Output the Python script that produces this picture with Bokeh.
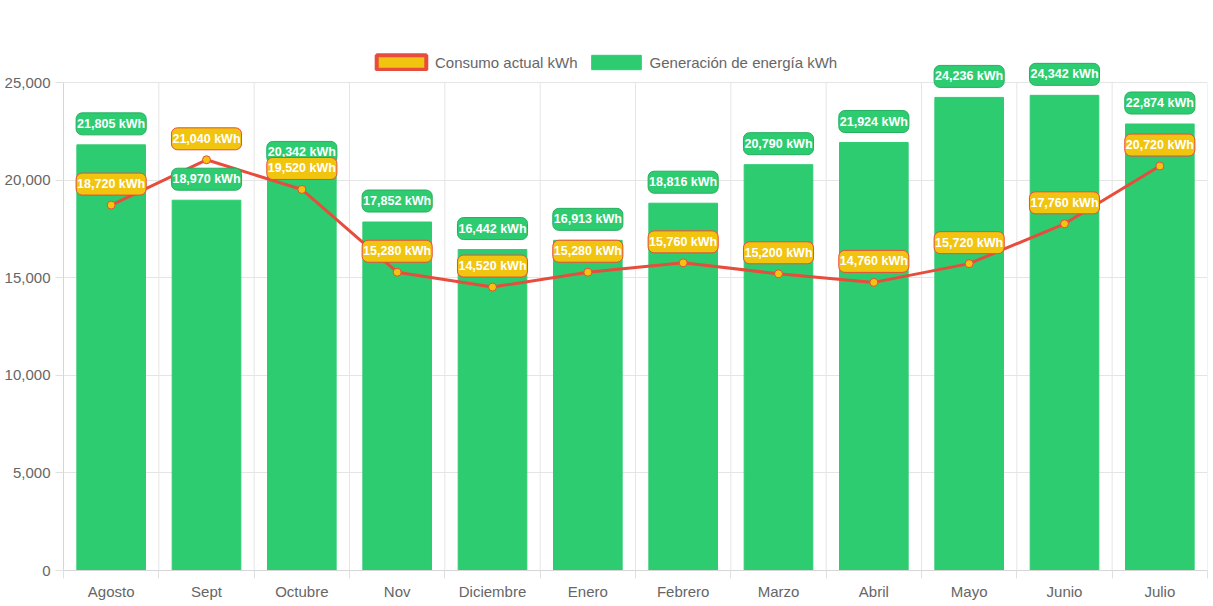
from bokeh.plotting import figure
from bokeh.models import ColumnDataSource, FixedTicker, NumeralTickFormatter, Legend, LegendItem, Range1d
from bokeh.core.properties import value
from bokeh.embed import file_html
from bokeh.resources import INLINE

months = ["Agosto", "Sept", "Octubre", "Nov", "Diciembre", "Enero", "Febrero",
          "Marzo", "Abril", "Mayo", "Junio", "Julio"]
generacion = [21805, 18970, 20342, 17852, 16442, 16913, 18816, 20790, 21924, 24236, 24342, 22874]
consumo = [18720, 21040, 19520, 15280, 14520, 15280, 15760, 15200, 14760, 15720, 17760, 20720]
y_ticks = [0, 5000, 10000, 15000, 20000, 25000]

GREEN = "#2ecc71"
GREEN_DARK = "#27ae60"
YELLOW = "#f1c40f"
RED = "#e74c3c"
FONT = "Liberation Sans"
GRID = "#e5e5e5"
AXIS = "#d6d6d6"

# layout (pixels)
W, H = 1210, 602
TOP, BOTTOM, LEFT, RIGHT = 40, 32, 63, 3
y_max = y_ticks[-1]
plot_px = H - TOP - BOTTOM
axis_px = 488  # pixels from 0 to y_max
y_end = y_max * plot_px / axis_px

xs = list(range(len(months)))
bounds = [i - 0.5 for i in range(len(months) + 1)]

src = ColumnDataSource(data=dict(
    x=xs, gen=generacion, con=consumo,
    gen_lbl=[f"{v:,} kWh" for v in generacion],
    con_lbl=[f"{v:,} kWh" for v in consumo],
))
gsrc = ColumnDataSource(data=dict(x=bounds, y0=[0] * len(bounds), y1=[y_max] * len(bounds)))

p = figure(width=W, height=H, output_backend="svg", toolbar_location=None,
           x_range=Range1d(-0.5, len(months) - 0.5), y_range=Range1d(0, y_end),
           min_border_left=LEFT, min_border_right=RIGHT, min_border_top=TOP,
           min_border_bottom=BOTTOM)
p.outline_line_color = None
p.background_fill_color = "white"
p.border_fill_color = "white"

# grid
p.xgrid.visible = False
p.ygrid.ticker = FixedTicker(ticks=y_ticks)
p.ygrid.grid_line_color = GRID
p.segment(x0="x", y0="y0", x1="x", y1="y1", source=gsrc, line_color=GRID, line_width=1, level="underlay")

# x axis
xa = p.xaxis[0]
xa.ticker = FixedTicker(ticks=xs, minor_ticks=bounds)
xa.major_label_overrides = {i: m for i, m in zip(xs, months)}
xa.major_tick_in = 0
xa.major_tick_out = 0
xa.minor_tick_in = 0
xa.minor_tick_out = 8
xa.minor_tick_line_color = "#e0e0e0"
xa.axis_line_color = AXIS
xa.major_label_text_font = FONT
xa.major_label_text_font_size = "15px"
xa.major_label_text_color = "#666666"
xa.major_label_standoff = 4

# y axis
ya = p.yaxis[0]
ya.ticker = FixedTicker(ticks=y_ticks)
ya.bounds = (0, y_max)
ya.formatter = NumeralTickFormatter(format="0,0")
ya.major_tick_in = 0
ya.major_tick_out = 8
ya.minor_tick_line_color = None
ya.major_tick_line_color = "#e0e0e0"
ya.axis_line_color = AXIS
ya.major_label_text_font = FONT
ya.major_label_text_font_size = "15px"
ya.major_label_text_color = "#666666"
ya.major_label_standoff = 5

bars = p.vbar(x="x", top="gen", width=0.72, source=src, fill_color=GREEN, line_color=GREEN)
p.line(x="x", y="con", source=src, line_color=RED, line_width=3)
p.scatter(x="x", y="con", source=src, size=8, fill_color=YELLOW, line_color=RED, line_width=1)

common = dict(text_color="white", text_font=value(FONT), text_font_style="bold",
              text_font_size="12.5px", text_align="center", text_baseline="middle",
              y_offset=-21, padding=(1, 4), border_radius=6, border_line_width=1)
p.text(x="x", y="gen", text="gen_lbl", source=src, background_fill_color=GREEN,
       border_line_color=GREEN_DARK, **common)
p.text(x="x", y="con", text="con_lbl", source=src, background_fill_color=YELLOW,
       border_line_color=RED, **common)

# legend-only swatch for the line series (no visible mark in the plot)
dummy = p.rect(x=[float("nan")], y=[float("nan")], width=1, height=1,
               fill_color=YELLOW, line_color=RED, line_width=4)

legend = Legend(items=[LegendItem(label="Consumo actual kWh", renderers=[dummy]),
                       LegendItem(label="Generación de energía kWh", renderers=[bars])],
                orientation="horizontal", location=(307, 499),
                glyph_width=62, glyph_height=18, label_height=18,
                label_text_font=FONT, label_text_font_size="15px", label_text_color="#666666",
                label_standoff=3, spacing=7, padding=0, margin=0,
                border_line_color=None, background_fill_alpha=0)
p.add_layout(legend, "center")

open("out.html", "w").write(file_html(p, INLINE))
